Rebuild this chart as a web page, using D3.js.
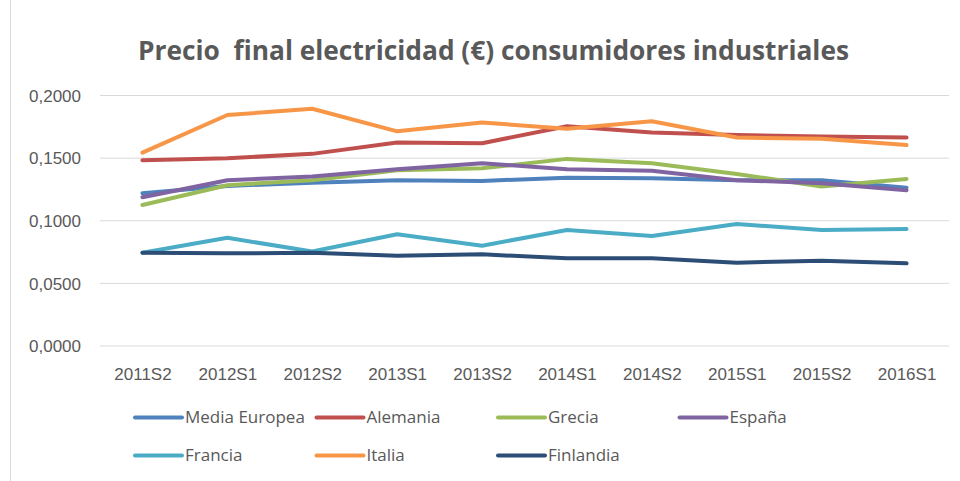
<!DOCTYPE html>
<meta charset="utf-8">
<style>
body { margin: 0; background: #fff; }
svg { display: block; font-family: "Open Sans", "Liberation Sans", sans-serif; }
.grid line { stroke: #d9d9d9; stroke-width: 1; }
.grid .domain { display: none; }
.tick text { fill: #595959; font-size: 17px; }
.series { fill: none; stroke-width: 4; stroke-linejoin: round; stroke-linecap: round; }
.legend text { fill: #595959; font-size: 17px; }
</style>
<svg width="960" height="481"></svg>
<script src="https://cdn.jsdelivr.net/npm/d3@7"></script>
<script>

var periods = ["2011S2", "2012S1", "2012S2", "2013S1", "2013S2", "2014S1", "2014S2", "2015S1", "2015S2", "2016S1"];

var mediaEuropea = [0.1216, 0.1274, 0.1300, 0.1320, 0.1314, 0.1340, 0.1335, 0.1320, 0.1320, 0.1260];
var alemania     = [0.1480, 0.1495, 0.1530, 0.1620, 0.1615, 0.1750, 0.1700, 0.1680, 0.1668, 0.1660];
var grecia       = [0.1122, 0.1280, 0.1320, 0.1400, 0.1415, 0.1490, 0.1455, 0.1370, 0.1270, 0.1330];
var espana       = [0.1184, 0.1320, 0.1350, 0.1407, 0.1455, 0.1407, 0.1396, 0.1320, 0.1295, 0.1240];
var francia      = [0.0741, 0.0860, 0.0750, 0.0888, 0.0797, 0.0922, 0.0875, 0.0970, 0.0922, 0.0930];
var italia       = [0.1540, 0.1840, 0.1890, 0.1710, 0.1780, 0.1730, 0.1790, 0.1660, 0.1650, 0.1600];
var finlandia    = [0.0741, 0.0736, 0.0740, 0.0717, 0.0728, 0.0696, 0.0696, 0.0661, 0.0677, 0.0656];

var yTicks = [0, 0.05, 0.10, 0.15, 0.20];

var series = [
  {name: "Media Europea", values: mediaEuropea, color: "#4f81bd"},
  {name: "Alemania",      values: alemania,     color: "#c0504d"},
  {name: "Grecia",        values: grecia,       color: "#9bbb59"},
  {name: "España",        values: espana,       color: "#8064a2"},
  {name: "Francia",       values: francia,      color: "#4bacc6"},
  {name: "Italia",        values: italia,       color: "#f79646"},
  {name: "Finlandia",     values: finlandia,    color: "#2c4d75"}
];

var svg = d3.select("svg");

var es = d3.formatLocale({decimal: ",", thousands: ".", grouping: [3], currency: ["", "€"]});

var x = d3.scalePoint()
    .domain(periods)
    .range([100, 949])
    .padding(0.5);

var y = d3.scaleLinear()
    .domain([0, 0.2])
    .range([345.5, 95]);

// frame line on the left
svg.append("line")
    .attr("x1", 10.5).attr("x2", 10.5)
    .attr("y1", 0).attr("y2", 481)
    .attr("stroke", "#d9d9d9");

svg.append("text")
    .attr("x", 493.5)
    .attr("y", 60)
    .attr("text-anchor", "middle")
    .attr("fill", "#595959")
    .attr("font-weight", "bold")
    .attr("font-size", 26)
    .attr("textLength", 711)
    .attr("lengthAdjust", "spacingAndGlyphs")
    .style("white-space", "pre")
    .text("Precio  final electricidad (€) consumidores industriales");

var gy = svg.append("g")
    .attr("class", "grid")
    .attr("transform", "translate(100,0)")
    .call(d3.axisLeft(y)
      .tickValues(yTicks)
      .tickSize(-849)
      .tickPadding(19)
      .tickFormat(es.format(".4f")));

gy.selectAll(".tick text").attr("dy", "0.36em");

var gx = svg.append("g")
    .attr("transform", "translate(0,345.5)")
    .call(d3.axisBottom(x).tickSize(0).tickPadding(22));

gx.select(".domain").remove();

var line = d3.line()
    .x(function(d, i) { return x(periods[i]); })
    .y(function(d) { return y(d); });

svg.append("g")
  .selectAll("path")
  .data(series)
  .enter().append("path")
    .attr("class", "series")
    .attr("stroke", function(d) { return d.color; })
    .attr("d", function(d) { return line(d.values); });

var legend = svg.append("g")
    .attr("class", "legend")
  .selectAll("g")
  .data(series)
  .enter().append("g")
    .attr("transform", function(d, i) {
      return "translate(" + (135 + (i % 4) * 181.5) + "," + (417.5 + Math.floor(i / 4) * 38) + ")";
    });

legend.append("line")
    .attr("x1", 0).attr("x2", 47)
    .attr("stroke", function(d) { return d.color; })
    .attr("stroke-width", 4)
    .attr("stroke-linecap", "round");

legend.append("text")
    .attr("x", 50)
    .attr("dy", "0.35em")
    .text(function(d) { return d.name; });

</script>
